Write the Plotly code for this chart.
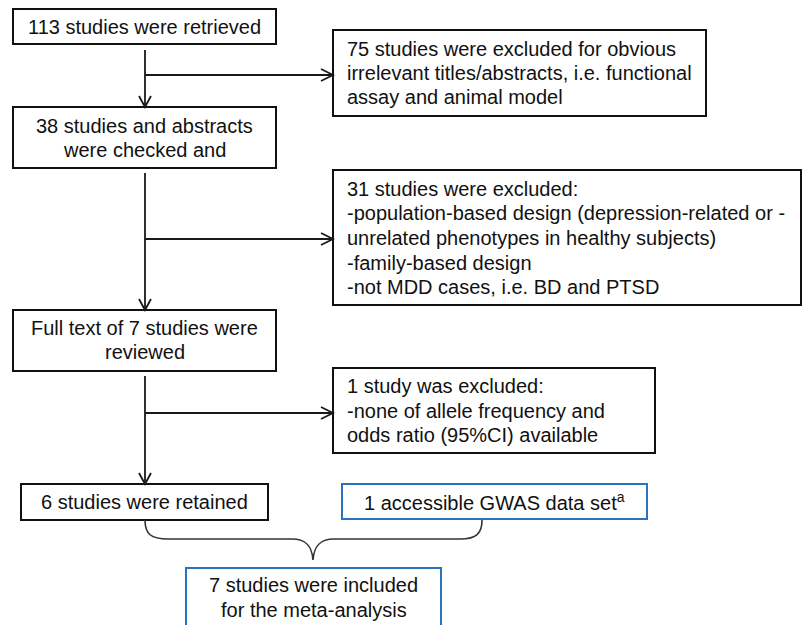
import plotly.graph_objects as go

# ---- content ----
box_ids = ["retrieved", "excl75", "checked", "excl31", "fulltext", "excl1", "retained", "gwas", "included"]
box_lines = {
    "retrieved": ["113 studies were retrieved"],
    "excl75": ["75 studies were excluded for obvious",
               "irrelevant titles/abstracts, i.e. functional",
               "assay and animal model"],
    "checked": ["38 studies and abstracts", "were checked and"],
    "excl31": ["31 studies were excluded:",
               "-population-based design (depression-related or -",
               "unrelated phenotypes in healthy subjects)",
               "-family-based design",
               "-not MDD cases, i.e. BD and PTSD"],
    "fulltext": ["Full text of 7 studies were", "reviewed"],
    "excl1": ["1 study was excluded:",
              "-none of allele frequency and",
              "odds ratio (95%CI) available"],
    "retained": ["6 studies were retained"],
    "gwas": ["1 accessible GWAS data set<sup>a</sup>"],
    "included": ["7 studies were included", "for the meta-analysis"],
}

# ---- layout geometry (pixels) ----
geom = {  # x0, y0, x1, y1, align, color, first-line y, line step
    "retrieved": (13, 9, 276, 44, "center", "#111111", 27, 24),
    "excl75": (333, 30, 706, 116, "left", "#111111", 49, 24),
    "checked": (13, 107, 276, 168, "center", "#111111", 125.5, 24),
    "excl31": (333, 170, 801, 305, "left", "#111111", 188.7, 24.6),
    "fulltext": (13, 310, 276, 371, "center", "#111111", 328, 23.5),
    "excl1": (333, 368, 655, 453, "left", "#111111", 386, 24.5),
    "retained": (21, 484, 268, 520, "center", "#111111", 502, 24),
    "gwas": (342, 484, 647, 519, "center", "#2b72c2", 501.5, 24),
    "included": (186, 568, 441, 640, "center", "#2b72c2", 585, 25),
}
spine_x = 145
vertical_segments = [(50, 107), (173, 310), (376, 484)]
branch_arrows = [(75, 333), (239, 333), (413, 333)]

FONT = "Liberation Sans, Arial, sans-serif"
shapes = []
annotations = []

for bid in box_ids:
    x0, y0, x1, y1, align, col, ly, step = geom[bid]
    shapes.append(dict(type="rect", xref="x", yref="y", x0=x0, y0=y0, x1=x1, y1=y1,
                       line=dict(color=col, width=2), fillcolor="white", layer="below"))
    for i, line in enumerate(box_lines[bid]):
        if align == "center":
            ax, xa = (x0 + x1) / 2, "center"
        else:
            ax, xa = x0 + 12, "left"
        annotations.append(dict(x=ax, y=ly + i * step, xref="x", yref="y", text=line,
                                showarrow=False, xanchor=xa, yanchor="middle",
                                font=dict(family=FONT, size=20, color="#111111")))

LW = 1.8
LC = "#1a1a1a"
for (ya, yb) in vertical_segments:
    shapes.append(dict(type="line", xref="x", yref="y", x0=spine_x, x1=spine_x, y0=ya, y1=yb,
                       line=dict(color=LC, width=LW)))
    shapes.append(dict(type="path", xref="x", yref="y",
                       path=f"M {spine_x-6},{yb-11} L {spine_x},{yb} L {spine_x+6},{yb-11}",
                       line=dict(color=LC, width=LW)))
for (y, xt) in branch_arrows:
    shapes.append(dict(type="line", xref="x", yref="y", x0=spine_x, x1=xt, y0=y, y1=y,
                       line=dict(color=LC, width=LW)))
    shapes.append(dict(type="path", xref="x", yref="y",
                       path=f"M {xt-12},{y-6} L {xt},{y} L {xt-12},{y+6}",
                       line=dict(color=LC, width=LW)))

# curly brace joining the two sources
shapes.append(dict(type="path", xref="x", yref="y",
                   path=("M 145,520 C 145,534 151,539 168,539 L 292,539 "
                         "C 306,539 312,546 313,560 C 314,546 320,539 334,539 "
                         "L 460,539 C 477,539 482,533 482,520"),
                   line=dict(color="#333333", width=1.6)))

fig = go.Figure()
fig.update_layout(
    width=802, height=625, margin=dict(l=0, r=0, t=0, b=0),
    paper_bgcolor="white", plot_bgcolor="white",
    xaxis=dict(range=[0, 802], visible=False, fixedrange=True),
    yaxis=dict(range=[625, 0], visible=False, fixedrange=True),
    shapes=shapes, annotations=annotations, showlegend=False,
)
fig.write_html("out.html", config={"displayModeBar": False},
               post_script="document.body.style.margin='0';")
